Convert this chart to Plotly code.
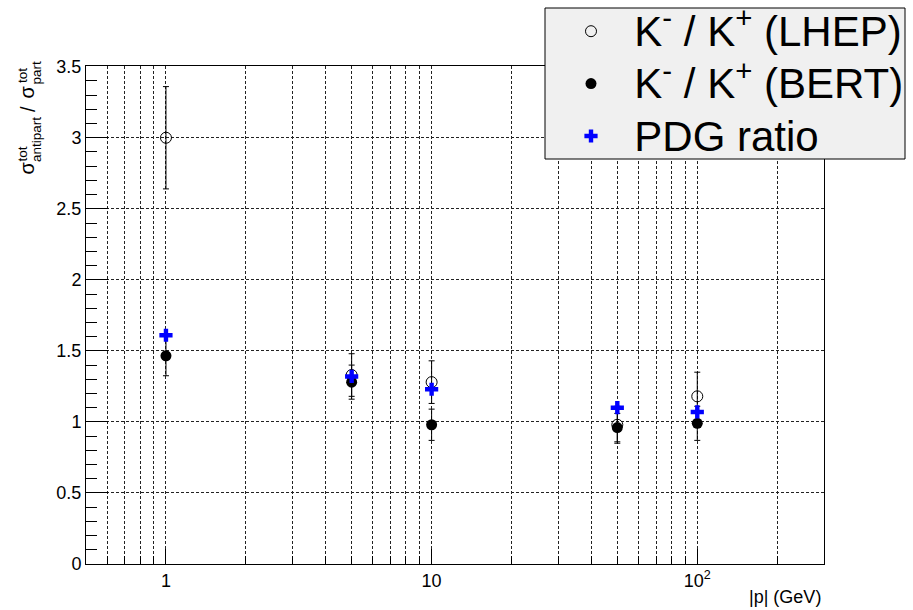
import plotly.graph_objects as go

# ---- data ----
p_values = [1, 5, 10, 50, 100]
lhep_ratio = [3.00, 1.33, 1.28, 0.98, 1.18]
lhep_err = [0.36, 0.15, 0.15, 0.13, 0.17]
bert_ratio = [1.465, 1.28, 0.98, 0.96, 0.99]
bert_err = [0.14, 0.12, 0.11, 0.10, 0.12]
pdg_ratio = [1.61, 1.32, 1.23, 1.10, 1.07]

x_tickvals = [1, 10, 100]
x_ticktext = ["1", "10", "10<sup>2</sup>"]
x_minor = [0.6, 0.7, 0.8, 0.9, 2, 3, 4, 5, 6, 7, 8, 9,
           20, 30, 40, 50, 60, 70, 80, 90, 200]
y_tickvals = [0, 0.5, 1, 1.5, 2, 2.5, 3, 3.5]
y_ticktext = ["0", "0.5", "1", "1.5", "2", "2.5", "3", "3.5"]

legend_labels = ["K<sup>-</sup> / K<sup>+</sup> (LHEP)",
                 "K<sup>-</sup> / K<sup>+</sup> (BERT)",
                 "PDG ratio"]

FONT = "Liberation Sans, Arial, Helvetica, sans-serif"
W, H = 913, 610
ML, MR, MT, MB = 86, 89, 66, 46
PW, PH = W - ML - MR, H - MT - MB

def px(xp):
    return (xp - ML) / PW

def py(yp):
    return (H - MB - yp) / PH

def lab(t):
    return '<span style="font-size:42px">\u00a0\u00a0' + t + '</span>'

fig = go.Figure()
fig.add_trace(go.Scatter(
    x=p_values, y=lhep_ratio, mode="markers",
    name=lab(legend_labels[0]),
    marker=dict(symbol="circle-open", size=11, color="black", line=dict(width=1, color="black")),
    error_y=dict(type="data", array=lhep_err, color="black", thickness=1, width=3),
))
fig.add_trace(go.Scatter(
    x=p_values, y=bert_ratio, mode="markers",
    name=lab(legend_labels[1]),
    marker=dict(symbol="circle", size=11, color="black"),
    error_y=dict(type="data", array=bert_err, color="black", thickness=1, width=3),
))
fig.add_trace(go.Scatter(
    x=p_values, y=pdg_ratio, mode="markers",
    name=lab(legend_labels[2]),
    marker=dict(symbol="cross", size=11, color="#0000ff"),
))

grid = dict(showgrid=True, gridcolor="#222", griddash="3px,2px", gridwidth=1)

fig.update_xaxes(
    type="log", range=[-0.301, 2.477],
    tickmode="array", tickvals=x_tickvals, ticktext=x_ticktext,
    ticks="inside", ticklen=15, tickwidth=1, tickcolor="black",
    tickfont=dict(family=FONT, size=18, color="black"),
    showline=True, linecolor="black", linewidth=1, mirror=True,
    minor=dict(tickmode="array", tickvals=x_minor, ticks="inside", ticklen=8,
               tickcolor="black", **grid),
    zeroline=False, **grid,
)
fig.update_yaxes(
    range=[0, 3.505],
    tickmode="array", tickvals=y_tickvals, ticktext=y_ticktext,
    ticks="inside", ticklen=22, tickwidth=1, tickcolor="black",
    tickfont=dict(family=FONT, size=18, color="black"),
    showline=True, linecolor="black", linewidth=1, mirror=True,
    minor=dict(dtick=0.1, ticks="inside", ticklen=11, tickcolor="black", showgrid=False),
    zeroline=False, **grid,
)

ann = []
def piece(text, x, y, size):
    ann.append(dict(text=text, x=px(x), y=py(y), xref="paper", yref="paper",
                    xanchor="center", yanchor="middle", textangle=-90, showarrow=False,
                    font=dict(family=FONT, size=size, color="black")))

piece("σ", 26, 168.5, 20)
piece("tot", 22, 154.5, 13.5)
piece("antipart", 36.5, 139.5, 13.5)
piece("/", 28, 109, 20)
piece("σ", 26, 92.5, 20)
piece("tot", 22, 76, 13.5)
piece("part", 36.5, 73, 13.5)

ann.append(dict(text="|p| (GeV)", x=px(823), y=py(597), xref="paper", yref="paper",
                xanchor="right", yanchor="middle", showarrow=False,
                font=dict(family=FONT, size=18, color="black")))

fig.update_layout(
    width=W, height=H,
    margin=dict(l=ML, r=MR, t=MT, b=MB, autoexpand=False),
    paper_bgcolor="white", plot_bgcolor="white",
    font=dict(family=FONT, color="black"),
    annotations=ann,
    shapes=[dict(type="rect", xref="paper", yref="paper",
                 x0=px(545), x1=px(905), y0=py(159), y1=py(8),
                 fillcolor="#f0f0f0", line=dict(color="black", width=1), layer="above")],
    legend=dict(x=px(545), y=py(0), xanchor="left", yanchor="top",
                bgcolor="rgba(0,0,0,0)", borderwidth=0,
                font=dict(family=FONT, size=38, color="black"),
                indentation=26, tracegroupgap=0),
    showlegend=True,
)

fig.write_html("out.html")
